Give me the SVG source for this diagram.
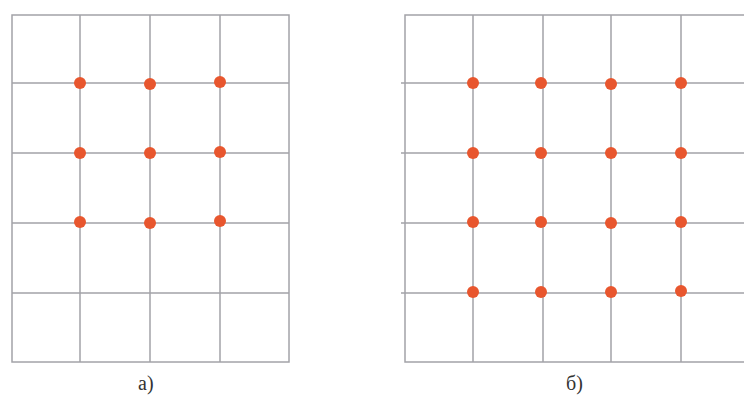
<svg xmlns="http://www.w3.org/2000/svg" width="744" height="398" viewBox="0 0 744 398">
<style>
.g{stroke:#a3a3a8;stroke-width:1.5;fill:none}
.d{fill:#e8562e}
.t{font-family:"Liberation Serif",serif;font-size:20px;fill:#333}
</style>
<rect width="744" height="398" fill="#fff"/>
<g id="grid-a">
<rect class="g" x="12" y="15" width="277" height="347"/>
<path class="g" d="M80 15V362M150 15V362M220 15V362M12 83H289M12 153H289M12 223H289M12 293H289"/>
</g>
<g id="dots-a">
<circle class="d" cx="80" cy="83" r="6"/><circle class="d" cx="150" cy="84" r="6"/><circle class="d" cx="220" cy="82" r="6"/>
<circle class="d" cx="80" cy="153" r="6"/><circle class="d" cx="150" cy="153" r="6"/><circle class="d" cx="220" cy="152" r="6"/>
<circle class="d" cx="80" cy="222" r="6"/><circle class="d" cx="150" cy="223" r="6"/><circle class="d" cx="220" cy="221" r="6"/>
</g>
<g id="grid-b">
<path class="g" d="M745 15H405V362H745"/>
<path class="g" d="M473 15V362M543 15V362M611 15V362M681 15V362M401 83H745M401 153H745M401 223H745M401 293H745"/>
</g>
<g id="dots-b">
<circle class="d" cx="473" cy="83" r="6"/><circle class="d" cx="541" cy="83" r="6"/><circle class="d" cx="611" cy="84" r="6"/><circle class="d" cx="681" cy="83" r="6"/>
<circle class="d" cx="473" cy="153" r="6"/><circle class="d" cx="541" cy="153" r="6"/><circle class="d" cx="611" cy="153" r="6"/><circle class="d" cx="681" cy="153" r="6"/>
<circle class="d" cx="473" cy="222" r="6"/><circle class="d" cx="541" cy="222" r="6"/><circle class="d" cx="611" cy="223" r="6"/><circle class="d" cx="681" cy="222" r="6"/>
<circle class="d" cx="473" cy="292" r="6"/><circle class="d" cx="541" cy="292" r="6"/><circle class="d" cx="611" cy="292" r="6"/><circle class="d" cx="681" cy="291" r="6"/>
</g>
<text class="t" x="138" y="390">а)</text>
<text class="t" x="566" y="390">б)</text>
</svg>
